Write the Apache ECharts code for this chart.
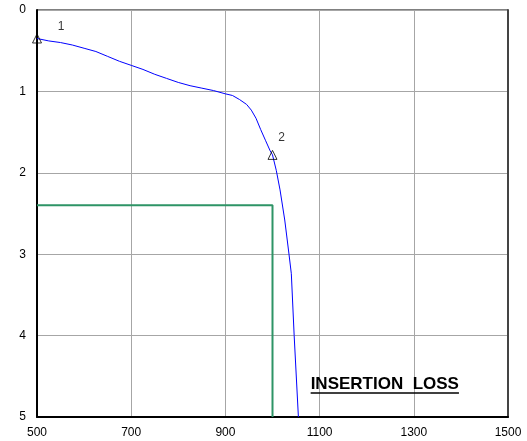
<!DOCTYPE html>
<html>
<head>
<meta charset="utf-8">
<script src="https://cdn.jsdelivr.net/npm/echarts@6/dist/echarts.min.js"></script>
<style>
  html, body { margin: 0; padding: 0; background: #fff; }
  #chart { width: 527px; height: 441px; }
</style>
</head>
<body>
<div id="chart"></div>
<script>
// Frequency (x) and insertion loss (y, dB, axis inverted)
const freq = [500, 525, 550, 575, 600, 625, 650, 675, 700, 725, 750, 775, 800, 825, 850, 875, 900, 915, 930, 945, 955, 965, 975, 985, 995, 1000, 1008, 1016, 1026, 1035, 1040, 1046, 1055];
const loss = [0.35, 0.38, 0.40, 0.43, 0.47, 0.51, 0.57, 0.63, 0.68, 0.73, 0.79, 0.84, 0.89, 0.93, 0.96, 0.99, 1.03, 1.05, 1.10, 1.16, 1.23, 1.33, 1.47, 1.60, 1.73, 1.78, 1.97, 2.21, 2.58, 3.00, 3.24, 4.00, 5.00];

// Spec mask (green)
const maskX = [500, 1000, 1000];
const maskY = [2.4, 2.4, 5];

// Marker points
const markerNames = ['1', '2'];
const markerX = [500, 1000];
const markerY = [0.35, 1.78];

// Axis ticks
const xTicks = [500, 700, 900, 1100, 1300, 1500];
const yTicks = [0, 1, 2, 3, 4, 5];

const titleText = 'INSERTION  LOSS';
const titleAnchor = [1081, 4.6];

const chart = echarts.init(document.getElementById('chart'), null, { renderer: 'canvas' });

const labelOffsets = [[24, -12], [9, -17]];
const font = 'Liberation Sans, Arial, sans-serif';
const titleSize = 17;

const option = {
  animation: false,
  backgroundColor: '#fff',
  grid: { left: 37, top: 10, right: 19, bottom: 24, show: true, borderColor: '#000', borderWidth: 1, containLabel: false },
  xAxis: {
    type: 'value', min: xTicks[0], max: xTicks[xTicks.length - 1], interval: 200,
    axisLine: { show: true, onZero: false, lineStyle: { color: '#000', width: 2 } },
    axisTick: { show: false },
    axisLabel: { color: '#000', fontSize: 12, fontFamily: font, margin: 10, formatter: v => String(v) },
    splitLine: { show: true, lineStyle: { color: '#a6a6a6', width: 1 } }
  },
  yAxis: [{
    type: 'value', inverse: true, min: yTicks[0], max: yTicks[yTicks.length - 1], interval: 1,
    axisLine: { show: true, onZero: false, lineStyle: { color: '#000', width: 2 } },
    axisTick: { show: false },
    axisLabel: { color: '#000', fontSize: 12, fontFamily: font, margin: 11, formatter: v => String(v) },
    splitLine: { show: true, lineStyle: { color: '#a6a6a6', width: 1 } }
  }, {
    type: 'value', inverse: true, min: 0, max: 5, interval: 1, position: 'right',
    axisLine: { show: true, onZero: false, lineStyle: { color: '#444', width: 2 } },
    axisTick: { show: false }, axisLabel: { show: false }, splitLine: { show: false }
  }],
  series: [
    {
      type: 'line', name: 'mask', data: maskX.map((x, i) => [x, maskY[i]]),
      showSymbol: false, symbol: 'none', lineStyle: { color: '#2e9466', width: 2 }, z: 2
    },
    {
      type: 'line', name: 'loss', data: freq.map((x, i) => [x, loss[i]]),
      showSymbol: false, symbol: 'none', smooth: false, lineStyle: { color: '#0000ff', width: 1 }, z: 3
    },
    {
      type: 'scatter', name: 'markers',
      data: markerX.map((x, i) => ({
        value: [x, markerY[i]], name: markerNames[i],
        label: { show: true, formatter: markerNames[i], offset: labelOffsets[i], position: 'inside', color: '#000', fontSize: 12, fontFamily: font }
      })),
      symbol: 'triangle', symbolSize: 9,
      itemStyle: { color: 'rgba(0,0,0,0)', borderColor: '#000', borderWidth: 1 },
      z: 4
    }
  ]
};
chart.setOption(option);

const p = chart.convertToPixel({ gridIndex: 0 }, titleAnchor);
const mc = document.createElement('canvas').getContext('2d');
mc.font = 'bold ' + titleSize + 'px ' + font;
const tw = mc.measureText(titleText).width;
chart.setOption({
  graphic: [{
    type: 'text', x: p[0], y: p[1],
    style: { text: titleText, fill: '#000', fontSize: titleSize, fontWeight: 'bold', fontFamily: font, verticalAlign: 'middle' }
  }, {
    type: 'line', shape: { x1: p[0], y1: p[1] + 8.5, x2: p[0] + tw, y2: p[1] + 8.5 },
    style: { stroke: '#000', lineWidth: 1.5 }
  }]
});
</script>
</body>
</html>
